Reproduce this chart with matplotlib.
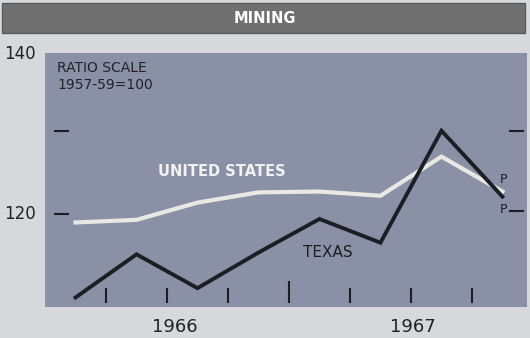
import matplotlib.pyplot as plt
from matplotlib.patches import Rectangle
import matplotlib.transforms as mtransforms

# quarterly index values, ratio scale 1957-59=100
quarters = ['1966Q1', '1966Q2', '1966Q3', '1966Q4', '1967Q1', '1967Q2', '1967Q3', '1967Q4']
us = [119.0, 119.3, 121.3, 122.5, 122.6, 122.1, 126.8, 122.6]
texas = [110.7, 115.4, 111.7, 115.6, 119.4, 116.7, 130.0, 122.0]
years = ['1966', '1967']

x = [i + 0.5 for i in range(len(quarters))]

fig = plt.figure(figsize=(5.30, 3.38), dpi=100, facecolor='#d6d8da')

# title band
fig.patches.append(Rectangle((0.004, 0.902), 0.987, 0.089, transform=fig.transFigure,
                             facecolor='#707070', edgecolor='#5a5a5a', lw=1))
fig.text(0.50, 0.946, 'MINING', color='white', fontsize=10.5, fontweight='bold',
         ha='center', va='center')

ax = fig.add_axes([0.085, 0.092, 0.909, 0.751])
ax.set_facecolor('#8a91a7')
for s in ax.spines.values():
    s.set_visible(False)

ax.set_yscale('log')
ax.set_ylim(109.7, 140.1)
ax.set_xlim(0, 7.9)
ax.set_xticks([])
ax.set_yticks([])
ax.minorticks_off()

ax.plot(x, us, color='#e9e9e4', lw=3.0, solid_joinstyle='miter', zorder=3)
ax.plot(x, texas, color='#1d1d24', lw=2.8, solid_joinstyle='miter', zorder=4)

# inner tick dashes
ty = mtransforms.blended_transform_factory(ax.transAxes, ax.transData)
for v in [120, 130]:
    ax.plot([0.021, 0.048], [v, v], color='#1d1d24', lw=1.5, transform=ty)
for v in [120.3, 130]:
    ax.plot([0.965, 0.992], [v, v], color='#1d1d24', lw=1.5, transform=ty)

tx = mtransforms.blended_transform_factory(ax.transData, ax.transAxes)
for q in range(1, 8):
    top = 0.10 if q == 4 else 0.071
    ax.plot([q, q], [0.02, top], color='#1d1d24', lw=1.5, transform=tx)

# y labels outside
ax.text(-0.02, 140, '140', transform=ty, ha='right', va='center', fontsize=12,
        color='#222222')
ax.text(-0.02, 120, '120', transform=ty, ha='right', va='center', fontsize=12,
        color='#222222')

ax.text(0.025, 0.941, 'RATIO SCALE', transform=ax.transAxes, fontsize=10,
        color='#222228', va='center')
ax.text(0.025, 0.874, '1957-59=100', transform=ax.transAxes, fontsize=10,
        color='#222228', va='center')

ax.text(1.85, 124.95, 'UNITED STATES', color='#f2f2f0', fontsize=10.5,
        fontweight='bold', va='center')
ax.text(4.23, 115.6, 'TEXAS', color='#1d1d24', fontsize=11, va='center')
ax.text(7.51, 124.0, 'P', color='#1d1d24', fontsize=9, ha='center', va='center')
ax.text(7.51, 120.5, 'P', color='#1d1d24', fontsize=9, ha='center', va='center')

for xv, lab in zip([2.12, 6.03], years):
    ax.text(xv, -0.08, lab, transform=tx, ha='center', va='center', fontsize=13,
            color='#222222')

fig.savefig('out.png', dpi=100, facecolor=fig.get_facecolor())
